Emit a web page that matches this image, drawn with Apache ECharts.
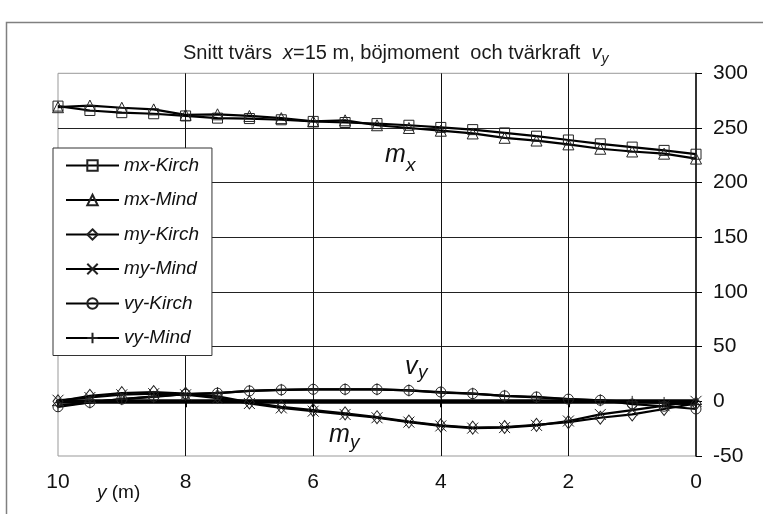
<!DOCTYPE html>
<html>
<head>
<meta charset="utf-8">
<script src="https://cdn.jsdelivr.net/npm/echarts@6/dist/echarts.min.js"></script>
<style>
html,body{margin:0;padding:0;background:#fff;}
#chart{width:763px;height:514px;}
</style>
</head>
<body>
<div id="chart"></div>
<script>
// positions along the section, y (m)
const yPositions = [10, 9.5, 9, 8.5, 8, 7.5, 7, 6.5, 6, 5.5, 5, 4.5, 4, 3.5, 3, 2.5, 2, 1.5, 1, 0.5, 0];
const mxKirch = [270, 266, 264, 263, 261, 259, 258.6, 257.5, 256, 255, 254, 252.5, 250.5, 248.5, 245.5, 242.5, 239, 235.5, 232.5, 229.5, 226];
const mxMind  = [269, 270.5, 268.5, 267, 262, 262.5, 261, 259, 256, 257, 252.5, 250, 247.5, 245, 241, 238.5, 235, 231, 228.5, 226.5, 222];
const myKirch = [0, 5, 7.5, 8.5, 7, 4.5, -1, -5, -8, -11, -14.5, -18.5, -22, -24, -23.5, -21.5, -19, -15, -12, -7, -2];
const myMind  = [1, 3.5, 6, 7, 6, 3, -2, -6, -9, -12, -15, -19, -22.5, -24.5, -24, -22, -18, -12, -8, -4, 0];
const vyKirch = [-5, -1, 2, 4.5, 6.5, 7.5, 9.5, 10.5, 11, 11, 11, 10, 8.5, 7, 5, 4, 2, 1, -2.5, -4.5, -7];
const vyMind  = [-4, -1, 2, 4, 6.5, 7.5, 9.5, 10.5, 11, 11, 11, 10, 8, 7, 5, 3.5, 2, 1, -0.5, -1.5, -3];
const seriesNames = ['mx-Kirch', 'mx-Mind', 'my-Kirch', 'my-Mind', 'vy-Kirch', 'vy-Mind'];
const seriesValues = [mxKirch, mxMind, myKirch, myMind, vyKirch, vyMind];
const valueTicks = {min: -50, max: 300, step: 50};
const posTicks = {min: 0, max: 10, step: 2};

const symbols = [
  {symbol: 'rect', size: 10},
  {symbol: 'triangle', size: 11},
  {symbol: 'diamond', size: [10, 13]},
  {symbol: 'path://M0,0L10,10M10,0L0,10', size: 11},
  {symbol: 'circle', size: 10},
  {symbol: 'path://M5,0L5,10M0,5L10,5', size: 12}
];

const FONT = '"Liberation Sans", Arial, sans-serif';

const chart = echarts.init(document.getElementById('chart'), null, {renderer: 'canvas'});

const series = seriesNames.map((name, i) => ({
  name: name,
  type: 'line',
  data: yPositions.map((p, k) => [p, seriesValues[i][k]]),
  symbol: symbols[i].symbol,
  symbolSize: symbols[i].size,
  showAllSymbol: true,
  lineStyle: {color: '#000', width: 2.2},
  itemStyle: {color: 'rgba(0,0,0,0)', borderColor: '#222', borderWidth: 1},
  emphasis: {disabled: true},
  animation: false,
  z: 3
}));

chart.setOption({
  animation: false,
  backgroundColor: '#fff',
  textStyle: {fontFamily: FONT},
  title: {
    text: '{n|Snitt tvärs  }{i|x}{n|=15 m, böjmoment  och tvärkraft  }{i|v}{s|y}',
    left: 183,
    top: 40,
    padding: 0,
    textStyle: {
      fontWeight: 'normal',
      rich: {
        n: {fontSize: 20, fontFamily: FONT, fontWeight: 'normal', color: '#1a1a1a', lineHeight: 26, verticalAlign: 'middle'},
        i: {fontSize: 20, fontFamily: FONT, fontWeight: 'normal', fontStyle: 'italic', color: '#1a1a1a', lineHeight: 26, verticalAlign: 'middle'},
        s: {fontSize: 14, fontFamily: FONT, fontWeight: 'normal', fontStyle: 'italic', color: '#1a1a1a', lineHeight: 14, verticalAlign: 'bottom'}
      }
    }
  },
  legend: {
    data: seriesNames,
    orient: 'vertical',
    left: 53,
    top: 148,
    padding: [7.5, 13, 7.5, 12],
    itemWidth: 53,
    itemHeight: 13,
    itemGap: 14.5,
    backgroundColor: '#fff',
    borderColor: '#333',
    borderWidth: 1,
    borderRadius: 0,
    textStyle: {fontFamily: FONT, fontSize: 19, fontStyle: 'italic', color: '#111', lineHeight: 20},
    selectedMode: false
  },
  grid: {
    left: 58,
    right: 67,
    top: 73.3,
    bottom: 58,
    show: true,
    borderColor: '#999',
    borderWidth: 1,
    backgroundColor: 'transparent',
    containLabel: false,
    outerBoundsMode: 'none'
  },
  xAxis: [
    {
      type: 'value',
      min: posTicks.min,
      max: posTicks.max,
      interval: posTicks.step,
      inverse: true,
      position: 'bottom',
      axisLine: {show: false, onZero: false},
      axisTick: {show: false},
      axisLabel: {fontSize: 21, color: '#111', margin: 16, fontFamily: FONT},
      splitLine: {show: true, showMinLine: false, showMaxLine: false, lineStyle: {color: '#111', width: 1}}
    },
    {
      type: 'value',
      min: posTicks.min,
      max: posTicks.max,
      interval: posTicks.step,
      inverse: true,
      position: 'top',
      axisLine: {show: true, onZero: true, onZeroAxisIndex: 0, lineStyle: {color: '#000', width: 4.5}},
      axisTick: {show: true, inside: true, length: 6, lineStyle: {color: '#000', width: 2}},
      axisLabel: {show: false},
      splitLine: {show: false}
    }
  ],
  yAxis: {
    type: 'value',
    min: valueTicks.min,
    max: valueTicks.max,
    interval: valueTicks.step,
    position: 'right',
    axisLine: {show: true, onZero: false, lineStyle: {color: '#000', width: 1.5}},
    axisTick: {show: true, length: 6, lineStyle: {color: '#000', width: 1}},
    axisLabel: {fontSize: 21, color: '#111', margin: 17, fontFamily: FONT},
    splitLine: {show: true, showMinLine: false, showMaxLine: false, lineStyle: {color: '#222', width: 1}}
  },
  graphic: [
    {type: 'rect', silent: true, z: -10, shape: {x: 6.5, y: 22.5, width: 800, height: 600}, style: {fill: 'none', stroke: '#808080', lineWidth: 1.5}},
    {type: 'text', x: 385, y: 154.7, z: 10, style: {text: 'm', font: 'italic 25px ' + FONT, fill: '#111', textVerticalAlign: 'middle'}},
    {type: 'text', x: 406, y: 165.5, z: 10, style: {text: 'x', font: 'italic 19px ' + FONT, fill: '#111', textVerticalAlign: 'middle'}},
    {type: 'text', x: 405, y: 366.7, z: 10, style: {text: 'v', font: 'italic 25px ' + FONT, fill: '#111', textVerticalAlign: 'middle'}},
    {type: 'text', x: 418, y: 372.7, z: 10, style: {text: 'y', font: 'italic 19px ' + FONT, fill: '#111', textVerticalAlign: 'middle'}},
    {type: 'text', x: 329, y: 435, z: 10, style: {text: 'm', font: 'italic 25px ' + FONT, fill: '#111', textVerticalAlign: 'middle'}},
    {type: 'text', x: 350, y: 443, z: 10, style: {text: 'y', font: 'italic 19px ' + FONT, fill: '#111', textVerticalAlign: 'middle'}},
    {type: 'text', x: 97, y: 493, z: 10, style: {
      text: '{i|y}{n| (m)}',
      textVerticalAlign: 'middle',
      rich: {
        i: {font: 'italic 19px ' + FONT, fill: '#111'},
        n: {font: '19px ' + FONT, fill: '#111'}
      }
    }}
  ],
  series: series
});
</script>
</body>
</html>
